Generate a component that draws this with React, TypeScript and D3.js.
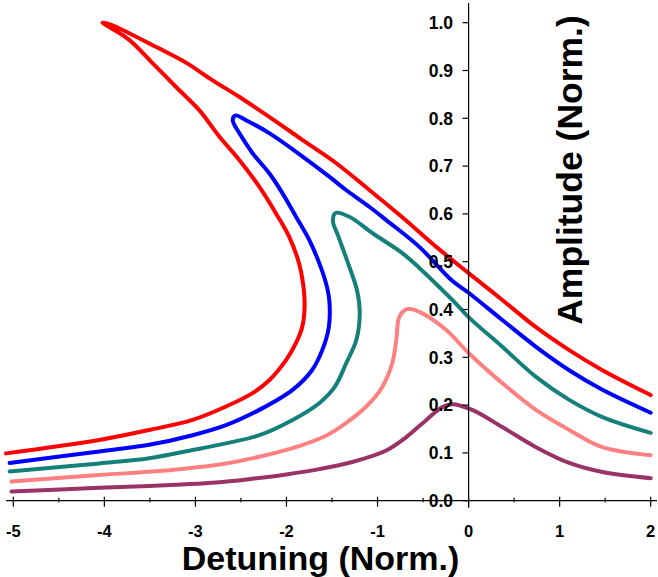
import React from "react";
import * as d3 from "d3";

const W = 658;
const H = 577;

const xTicks = [-5, -4, -3, -2, -1, 0, 1, 2];
const yTicks = [0, 0.1, 0.2, 0.3, 0.4, 0.5, 0.6, 0.7, 0.8, 0.9, 1.0];

// Detuning / amplitude pairs
const redCurve: [number, number][] = [
  [-5.08, 0.099], [-4.056, 0.127], [-3.507, 0.148], [-3.031, 0.169], [-2.664, 0.197],
  [-2.372, 0.225], [-2.189, 0.252], [-2.005, 0.294], [-1.895, 0.33], [-1.826, 0.364],
  [-1.804, 0.393], [-1.806, 0.434], [-1.86, 0.495], [-1.97, 0.552], [-2.115, 0.601],
  [-2.299, 0.657], [-2.518, 0.713], [-2.738, 0.762], [-2.958, 0.817], [-3.21, 0.865],
  [-3.474, 0.916], [-3.727, 0.964], [-3.946, 0.991], [-4.02, 1.0], [-3.93, 0.996],
  [-3.727, 0.978], [-3.43, 0.949], [-3.1, 0.916], [-2.815, 0.88], [-2.52, 0.845],
  [-2.19, 0.803], [-1.826, 0.755], [-1.453, 0.706], [-1.09, 0.65], [-0.728, 0.593],
  [-0.355, 0.531], [0.0, 0.476], [0.37, 0.42], [0.74, 0.363], [1.105, 0.315],
  [1.47, 0.273], [2.0, 0.221],
];

const blueCurve: [number, number][] = [
  [-5.04, 0.079], [-4.056, 0.103], [-3.507, 0.117], [-3.031, 0.137], [-2.664, 0.158],
  [-2.299, 0.19], [-1.933, 0.232], [-1.72, 0.273], [-1.607, 0.315], [-1.535, 0.363],
  [-1.53, 0.42], [-1.566, 0.455], [-1.64, 0.497], [-1.749, 0.545], [-1.895, 0.594],
  [-2.043, 0.643], [-2.189, 0.685], [-2.372, 0.727], [-2.518, 0.769], [-2.59, 0.796],
  [-2.56, 0.806], [-2.445, 0.796], [-2.189, 0.769], [-1.823, 0.72], [-1.53, 0.678],
  [-1.346, 0.65], [-1.09, 0.615], [-0.904, 0.587], [-0.541, 0.531], [-0.179, 0.46],
  [0.0, 0.435], [0.37, 0.378], [0.74, 0.322], [1.105, 0.273], [1.47, 0.232],
  [2.0, 0.184],
];

const tealCurve: [number, number][] = [
  [-5.04, 0.061], [-4.056, 0.078], [-3.507, 0.089], [-3.031, 0.106], [-2.664, 0.12],
  [-2.299, 0.137], [-1.933, 0.169], [-1.64, 0.204], [-1.47, 0.238], [-1.343, 0.288],
  [-1.233, 0.336], [-1.195, 0.393], [-1.225, 0.44], [-1.33, 0.5], [-1.43, 0.553],
  [-1.49, 0.585], [-1.46, 0.602], [-1.31, 0.594], [-1.057, 0.56], [-0.728, 0.518],
  [-0.541, 0.487], [-0.179, 0.42], [0.0, 0.384], [0.37, 0.322], [0.74, 0.259],
  [1.105, 0.211], [1.47, 0.175], [2.0, 0.142],
];

const pinkCurve: [number, number][] = [
  [-5.02, 0.04], [-4.056, 0.054], [-3.398, 0.062], [-2.664, 0.078], [-2.299, 0.092],
  [-1.933, 0.11], [-1.566, 0.136], [-1.343, 0.163], [-1.123, 0.197], [-0.948, 0.238],
  [-0.838, 0.288], [-0.794, 0.336], [-0.761, 0.384], [-0.673, 0.401], [-0.541, 0.395],
  [-0.245, 0.357], [0.0, 0.309], [0.37, 0.246], [0.74, 0.19], [1.105, 0.148],
  [1.47, 0.112], [2.0, 0.095],
];

const purpleCurve: [number, number][] = [
  [-5.02, 0.019], [-4.056, 0.027], [-3.507, 0.031], [-3.144, 0.034], [-2.771, 0.038],
  [-2.376, 0.046], [-2.002, 0.055], [-1.64, 0.066], [-1.277, 0.081], [-0.904, 0.105],
  [-0.684, 0.133], [-0.464, 0.169], [-0.289, 0.196], [-0.179, 0.202], [0.04, 0.19],
  [0.37, 0.154], [0.74, 0.112], [1.105, 0.079], [1.47, 0.06], [2.0, 0.047],
];

const seriesData = [redCurve, blueCurve, tealCurve, pinkCurve, purpleCurve];
const seriesColors = ["#ff0000", "#0000ff", "#15807a", "#ff8080", "#993366"];

export default function App() {
  const x = d3.scaleLinear().domain([-5, 2]).range([13.3, 650.7]);
  const y = d3.scaleLinear().domain([0, 1]).range([500.7, 22.7]);
  const line = d3
    .line<[number, number]>()
    .x((d) => x(d[0]))
    .y((d) => y(d[1]))
    .curve(d3.curveCatmullRom.alpha(0.5));

  const x0 = x(0);
  const y0 = y(0);
  const minorX = d3.range(-4.5, 2, 1);
  const font = "'Liberation Sans', Arial, sans-serif";

  return (
    <svg
      width={W}
      height={H}
      style={{ position: "absolute", left: 0, top: 0, background: "#fff" }}
      fontFamily={font}
    >
      <rect x={0} y={0} width={W} height={H} fill="#fff" />
      {/* curves */}
      {seriesData.map((s, i) => (
        <path
          key={i}
          d={line(s) || ""}
          fill="none"
          stroke={seriesColors[i]}
          strokeWidth={4}
          strokeLinejoin="round"
          strokeLinecap="round"
        />
      ))}
      {/* x axis */}
      <line x1={6} x2={657} y1={y0} y2={y0} stroke="#000" strokeWidth={1.2} />
      {xTicks.map((t) => (
        <g key={t}>
          <line x1={x(t)} x2={x(t)} y1={y0 - 4} y2={y0 + 6} stroke="#000" strokeWidth={1.2} />
          <text
            x={x(t)}
            y={536.5}
            textAnchor="middle"
            fontSize={16.5}
            fontWeight="bold"
            fill="#000"
          >
            {t}
          </text>
        </g>
      ))}
      {minorX.map((t) => (
        <line key={t} x1={x(t)} x2={x(t)} y1={y0 - 3} y2={y0 + 1.5} stroke="#000" strokeWidth={1.2} />
      ))}
      {/* y axis */}
      <line x1={x0} x2={x0} y1={3} y2={y0 + 7} stroke="#000" strokeWidth={1.2} />
      {yTicks.map((t) => (
        <g key={t}>
          <line x1={x0 - 6} x2={x0} y1={y(t)} y2={y(t)} stroke="#000" strokeWidth={1.2} />
          <text
            x={453}
            y={y(t) + 6.3}
            textAnchor="end"
            fontSize={17.5}
            fontWeight="bold"
            fill="#000"
          >
            {t.toFixed(1)}
          </text>
        </g>
      ))}
      {/* titles */}
      <text
        x={320.5}
        y={569.5}
        textAnchor="middle"
        fontSize={34}
        fontWeight="bold"
        fill="#000"
      >
        Detuning (Norm.)
      </text>
      <text
        transform={`translate(582,170) rotate(-90)`}
        textAnchor="middle"
        fontSize={35.5}
        fontWeight="bold"
        fill="#000"
      >
        Amplitude (Norm.)
      </text>
    </svg>
  );
}
